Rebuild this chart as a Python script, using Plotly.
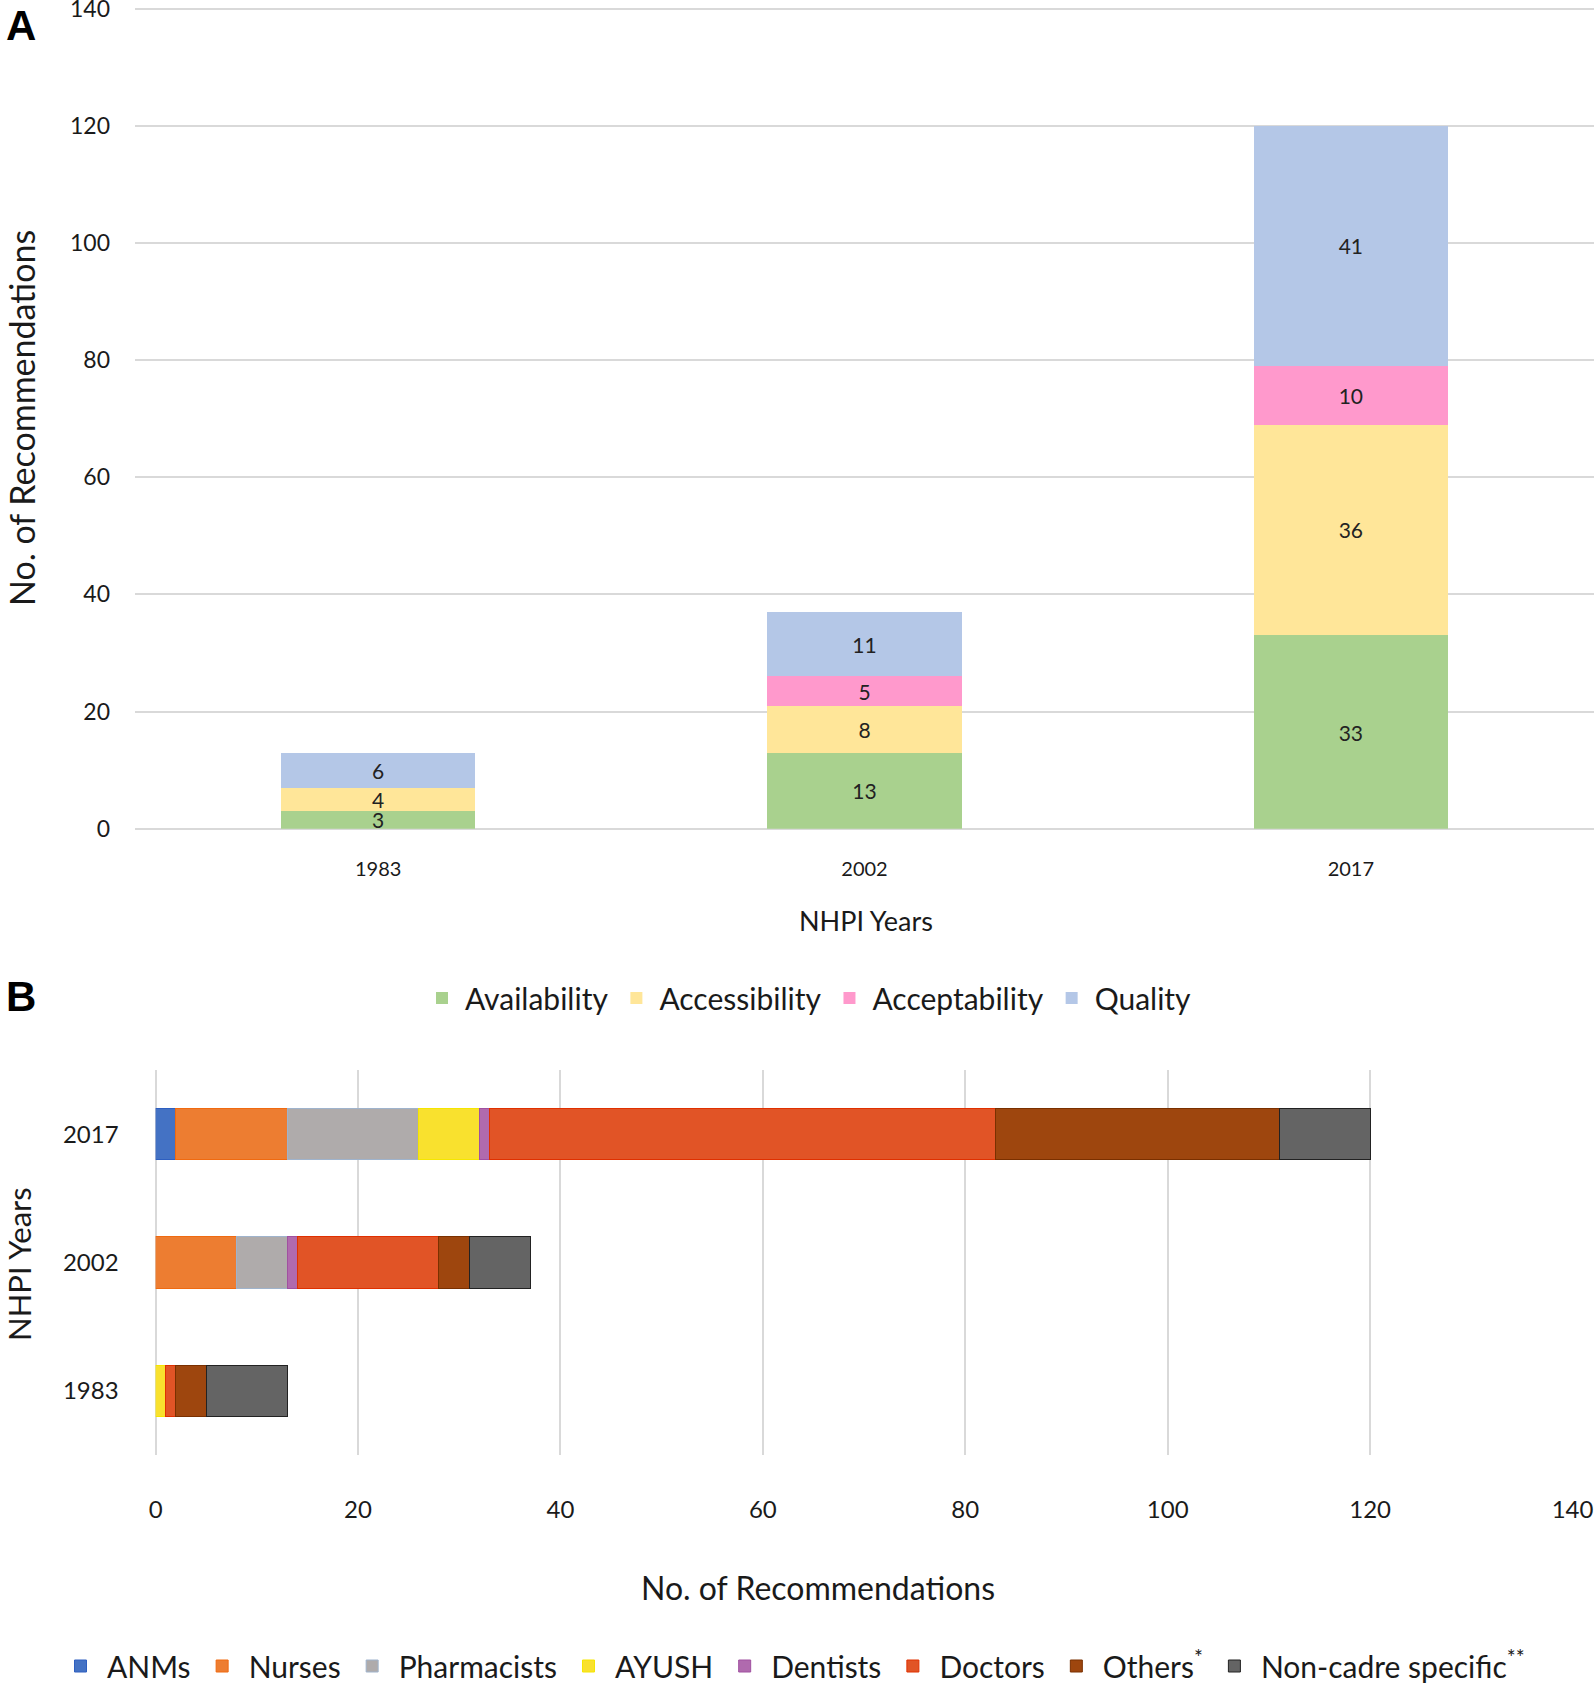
import plotly.graph_objects as go

W, H = 1594, 1683

# ---------------- data ----------------
years = ["1983", "2002", "2017"]

# Panel A: dimensions of recommendations
dim_names = ["Availability", "Accessibility", "Acceptability", "Quality"]
availability = [3, 13, 33]
accessibility = [4, 8, 36]
acceptability = [0, 5, 10]
quality = [6, 11, 41]
dim_colors = ["#A9D18E", "#FFE699", "#FF99CC", "#B4C7E7"]

# Panel B: cadres
cadre_names = ["ANMs", "Nurses", "Pharmacists", "AYUSH", "Dentists", "Doctors",
               "Others<sup>*</sup>", "Non-cadre specific<sup>**</sup>"]
anms = [0, 0, 2]
nurses = [0, 8, 11]
pharmacists = [0, 5, 13]
ayush = [1, 0, 6]
dentists = [0, 1, 1]
doctors = [1, 14, 50]
others = [3, 3, 28]
noncadre = [8, 6, 9]
cadre_colors = ["#4472C4", "#ED7D31", "#AFABAB", "#F9E12E", "#B06AAE", "#E15426", "#9E460E", "#646464"]
cadre_lines = ["#2E5FC0", "#F06A10", "#9FB3CC", "#F5E600", "#A050A0", "#E03000", "#7A3000", "#222222"]

FONT = "Lato, 'Open Sans', sans-serif"
TXT = "#1a1a1a"

def px_x(p):
    return p / W

def px_y(p):
    return 1 - p / H

fig = go.Figure()

dim_series = [availability, accessibility, acceptability, quality]
for name, vals, col in zip(dim_names, dim_series, dim_colors):
    fig.add_trace(go.Bar(
        x=years, y=vals, name=name,
        marker=dict(color=col, line=dict(width=0)),
        text=[str(v) if v else "" for v in vals],
        textposition="inside", insidetextanchor="middle",
        textangle=0, constraintext="none",
        textfont=dict(family=FONT, size=21, color="#222222"),
        xaxis="x", yaxis="y", legend="legend",
    ))

cadre_series = [anms, nurses, pharmacists, ayush, dentists, doctors, others, noncadre]
for name, vals, col, lc in zip(cadre_names, cadre_series, cadre_colors, cadre_lines):
    fig.add_trace(go.Bar(
        y=years, x=[v if v else None for v in vals], name=name, orientation="h",
        marker=dict(color=col, line=dict(width=1, color=lc)),
        xaxis="x2", yaxis="y2", legend="legend2",
    ))

grid = "#D9D9D9"
ytop_val = 140.4
ppu_a = (828.7 - 8.6) / 140.0
fig.update_layout(
    width=W, height=H,
    margin=dict(l=0, r=0, t=0, b=0, autoexpand=False),
    paper_bgcolor="white", plot_bgcolor="white",
    barmode="stack",
    bargap=0.6,
    font=dict(family=FONT, color=TXT),
    showlegend=True,
    xaxis=dict(
        domain=[px_x(135), 1.0], anchor="y", automargin=False,
        type="category", categoryorder="array", categoryarray=years,
        showgrid=False, showline=False, zeroline=False,
        ticks="", ticklabelstandoff=26,
        tickfont=dict(family=FONT, size=20, color=TXT),
    ),
    yaxis=dict(
        domain=[px_y(828.7), px_y(8.6 - (ytop_val - 140) * ppu_a)], anchor="x",
        automargin=False, ticklabeloverflow="allow",
        range=[0, ytop_val], dtick=20, tick0=0,
        showgrid=True, gridcolor=grid, gridwidth=1.5,
        zeroline=True, zerolinecolor=grid, zerolinewidth=1.5,
        showline=False, ticks="", ticklabelstandoff=24,
        tickfont=dict(family=FONT, size=23, color=TXT),
    ),
    xaxis2=dict(
        domain=[px_x(155.6), px_x(1572.5)], anchor="y2", automargin=False,
        ticklabeloverflow="allow",
        range=[0, 140], dtick=20, tick0=0,
        showgrid=True, gridcolor=grid, gridwidth=2,
        zeroline=True, zerolinecolor=grid, zerolinewidth=2,
        showline=False, ticks="", ticklabelstandoff=38,
        tickfont=dict(family=FONT, size=24, color=TXT),
    ),
    yaxis2=dict(
        domain=[px_y(1455), px_y(1070)], anchor="x2", automargin=False,
        type="category", categoryorder="array", categoryarray=years,
        showgrid=False, showline=False, zeroline=False,
        ticks="", ticklabelstandoff=36,
        tickfont=dict(family=FONT, size=24, color=TXT),
    ),
    legend=dict(
        orientation="h", x=px_x(808), y=px_y(998),
        xanchor="center", yanchor="middle", itemwidth=36,
        font=dict(family=FONT, size=30, color=TXT),
        bgcolor="rgba(0,0,0,0)", traceorder="normal",
    ),
    legend2=dict(
        orientation="h", x=px_x(792), y=px_y(1666),
        xanchor="center", yanchor="middle", itemwidth=43,
        font=dict(family=FONT, size=30, color=TXT),
        bgcolor="rgba(0,0,0,0)", traceorder="normal",
    ),
)

ann = [
    dict(text="<b>A</b>", x=px_x(4), y=1.0, xanchor="left", yanchor="top",
         font=dict(family="Liberation Sans, Arial", size=42, color="black")),
    dict(text="<b>B</b>", x=px_x(4), y=px_y(996), xanchor="left", yanchor="middle",
         font=dict(family="Liberation Sans, Arial", size=42, color="black")),
    dict(text="No. of Recommendations", x=px_x(21), y=px_y(418), textangle=-90,
         xanchor="center", yanchor="middle", font=dict(family=FONT, size=34, color=TXT)),
    dict(text="NHPI Years", x=px_x(866), y=px_y(920),
         xanchor="center", yanchor="middle", font=dict(family=FONT, size=27, color=TXT)),
    dict(text="NHPI Years", x=px_x(19), y=px_y(1264), textangle=-90,
         xanchor="center", yanchor="middle", font=dict(family=FONT, size=31, color=TXT)),
    dict(text="No. of Recommendations", x=px_x(818), y=px_y(1587),
         xanchor="center", yanchor="middle", font=dict(family=FONT, size=32, color=TXT)),
]
for a in ann:
    a.update(xref="paper", yref="paper", showarrow=False)
fig.update_layout(annotations=ann)

fig.write_html(
    "out.html",
    config={"displayModeBar": False},
    post_script="document.body.style.margin='0';document.body.style.overflow='hidden';",
)
